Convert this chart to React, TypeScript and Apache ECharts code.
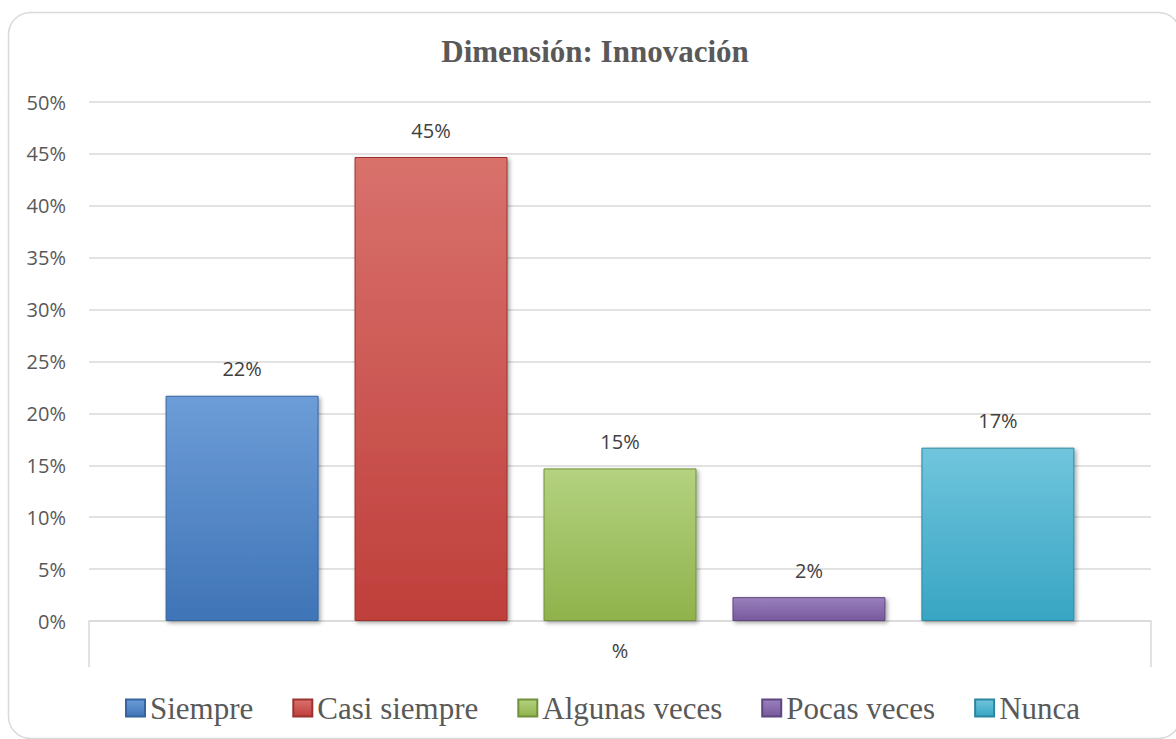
import React, { useEffect, useRef } from "react";
import * as echarts from "echarts";

const categories = ["%"];
const seriesNames = ["Siempre", "Casi siempre", "Algunas veces", "Pocas veces", "Nunca"];
const values = [21.7, 44.7, 14.7, 2.3, 16.7];
const yTicks = { min: 0, max: 50, interval: 5 };
const titleText = "Dimensión: Innovación";

const SERIF = "'Liberation Serif', 'Times New Roman', Times, 'DejaVu Serif', serif";

const palette = [
  { top: "#6d9dd8", bottom: "#3f74b6", border: "#35649e" },
  { top: "#d9716c", bottom: "#bf3f3b", border: "#9b322f" },
  { top: "#b4d280", bottom: "#8fb24b", border: "#73903a" },
  { top: "#9a80bd", bottom: "#77599c", border: "#5e4680" },
  { top: "#70c5dd", bottom: "#38a5c3", border: "#2c86a0" },
];

export default function App() {
  const ref = useRef<HTMLDivElement>(null);
  useEffect(() => {
    if (!ref.current) return;
    const chart = echarts.init(ref.current, undefined, { renderer: "svg" });
    const series = seriesNames.map((name, i) => ({
      name,
      type: "bar",
      data: [values[i]],
      barWidth: 153,
      barGap: "23.5%",
      itemStyle: {
        color: new echarts.graphic.LinearGradient(0, 0, 0, 1, [
          { offset: 0, color: palette[i].top },
          { offset: 1, color: palette[i].bottom },
        ]),
        borderColor: palette[i].border,
        borderWidth: 1,
        shadowColor: "rgba(0,0,0,0.35)",
        shadowBlur: 4,
        shadowOffsetX: 2,
        shadowOffsetY: 2,
      },
      label: {
        show: true,
        position: "top",
        distance: 17,
        color: "#404040",
        fontFamily: "Open Sans",
        fontSize: 20,
        formatter: (p: any) => Math.round(p.value) + "%",
      },
    }));
    chart.setOption({
      animation: false,
      backgroundColor: "#ffffff",
      graphic: [
        {
          type: "rect",
          shape: { x: 8.5, y: 12.5, width: 1172, height: 726, r: 22 },
          style: { fill: "none", stroke: "#d9d9d9", lineWidth: 1.5 },
          silent: true,
          z: -1,
        },
        {
          type: "text",
          x: 595,
          y: 51,
          style: {
            text: titleText,
            fill: "#595959",
            fontFamily: SERIF,
            fontWeight: "bold",
            fontSize: 31,
            textAlign: "center",
            textVerticalAlign: "middle",
          },
        },
      ],
      legend: {
        data: seriesNames,
        left: 120,
        top: 687,
        icon: "rect",
        itemWidth: 19,
        itemHeight: 17,
        itemGap: 39,
        textStyle: {
          color: "#595959",
          fontFamily: SERIF,
          fontSize: 31,
          lineHeight: 32,
        },
      },
      grid: { left: 89, right: 25, top: 102, bottom: 118, containLabel: false },
      xAxis: {
        type: "category",
        data: categories,
        axisLine: { show: true, lineStyle: { color: "#d9d9d9", width: 1.5 } },
        axisTick: { show: true, length: 46, lineStyle: { color: "#d9d9d9", width: 1.5 } },
        axisLabel: { color: "#404040", fontFamily: "Open Sans", fontSize: 20, margin: 19 },
      },
      yAxis: {
        type: "value",
        min: yTicks.min,
        max: yTicks.max,
        interval: yTicks.interval,
        axisLine: { show: false },
        axisTick: { show: false },
        axisLabel: {
          color: "#595959",
          fontFamily: "Open Sans",
          fontSize: 20,
          margin: 23,
          formatter: "{value}%",
        },
        splitLine: { lineStyle: { color: "#d9d9d9", width: 1.5 } },
      },
      series,
    });
    return () => chart.dispose();
  }, []);
  return (
    <div
      ref={ref}
      style={{ position: "fixed", left: 0, top: 0, width: 1176, height: 739 }}
    />
  );
}
